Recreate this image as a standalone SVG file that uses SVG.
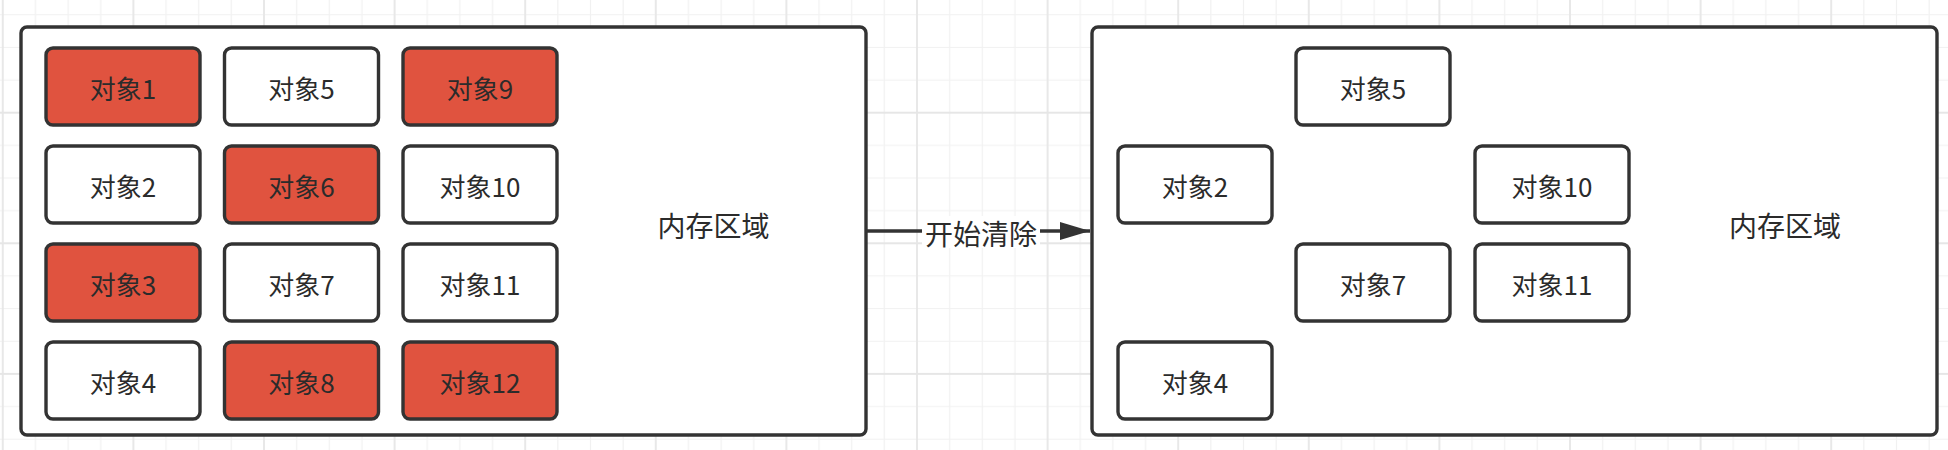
<svg xmlns="http://www.w3.org/2000/svg" width="1948" height="450" viewBox="0 0 1948 450">
<style>
.obj{stroke:#333333;stroke-width:3.4;}
.white{fill:#ffffff;}
.red{fill:#e0533f;}
.area{fill:#ffffff;stroke:#333333;stroke-width:3.4;}
.lbl{font-family:"Noto Sans CJK SC","Noto Sans",sans-serif;font-size:26px;fill:#2b2b2b;text-anchor:middle;dominant-baseline:central;}
.big{font-size:28px;}
.edge{stroke:#333333;stroke-width:3.4;fill:none;}
</style>
<defs>
<pattern id="grid" patternUnits="userSpaceOnUse" x="1.8" y="-18.9" width="130.6" height="130.6">
<g stroke="#f1f1f1" stroke-width="1.2">
<line x1="33.65" y1="0" x2="33.65" y2="130.6"/>
<line x1="66.3" y1="0" x2="66.3" y2="130.6"/>
<line x1="98.95" y1="0" x2="98.95" y2="130.6"/>
<line x1="0" y1="33.65" x2="130.6" y2="33.65"/>
<line x1="0" y1="66.3" x2="130.6" y2="66.3"/>
<line x1="0" y1="98.95" x2="130.6" y2="98.95"/>
</g>
<g stroke="#e6e6e6" stroke-width="1.8">
<line x1="1" y1="0" x2="1" y2="130.6"/>
<line x1="0" y1="1" x2="130.6" y2="1"/>
</g>
</pattern>
<marker id="arrow" viewBox="0 0 30 18" refX="30" refY="9" markerWidth="30" markerHeight="18" markerUnits="userSpaceOnUse" orient="auto">
<path d="M0,0 L30,9 L0,18 Z" fill="#333333"/>
</marker>
</defs>
<rect width="1948" height="450" fill="#ffffff"/>
<rect width="1948" height="450" fill="url(#grid)"/>

<g id="area-before">
<rect class="area" x="21" y="27" width="845" height="408" rx="6"/>
<text class="lbl big" x="713.5" y="225">内存区域</text>
</g>
<g id="obj1"><rect class="obj red" x="46" y="48" width="154" height="77" rx="7"/><text class="lbl" x="123" y="87.5">对象1</text></g>
<g id="obj2"><rect class="obj white" x="46" y="146" width="154" height="77" rx="7"/><text class="lbl" x="123" y="185.5">对象2</text></g>
<g id="obj3"><rect class="obj red" x="46" y="244" width="154" height="77" rx="7"/><text class="lbl" x="123" y="283.5">对象3</text></g>
<g id="obj4"><rect class="obj white" x="46" y="342" width="154" height="77" rx="7"/><text class="lbl" x="123" y="381.5">对象4</text></g>
<g id="obj5"><rect class="obj white" x="224.5" y="48" width="154" height="77" rx="7"/><text class="lbl" x="301.5" y="87.5">对象5</text></g>
<g id="obj6"><rect class="obj red" x="224.5" y="146" width="154" height="77" rx="7"/><text class="lbl" x="301.5" y="185.5">对象6</text></g>
<g id="obj7"><rect class="obj white" x="224.5" y="244" width="154" height="77" rx="7"/><text class="lbl" x="301.5" y="283.5">对象7</text></g>
<g id="obj8"><rect class="obj red" x="224.5" y="342" width="154" height="77" rx="7"/><text class="lbl" x="301.5" y="381.5">对象8</text></g>
<g id="obj9"><rect class="obj red" x="403" y="48" width="154" height="77" rx="7"/><text class="lbl" x="480" y="87.5">对象9</text></g>
<g id="obj10"><rect class="obj white" x="403" y="146" width="154" height="77" rx="7"/><text class="lbl" x="480" y="185.5">对象10</text></g>
<g id="obj11"><rect class="obj white" x="403" y="244" width="154" height="77" rx="7"/><text class="lbl" x="480" y="283.5">对象11</text></g>
<g id="obj12"><rect class="obj red" x="403" y="342" width="154" height="77" rx="7"/><text class="lbl" x="480" y="381.5">对象12</text></g>

<g id="area-after">
<rect class="area" x="1092" y="27" width="845" height="408" rx="6"/>
<text class="lbl big" x="1785" y="225">内存区域</text>
</g>
<g id="after-obj5"><rect class="obj white" x="1296" y="48" width="154" height="77" rx="7"/><text class="lbl" x="1373" y="87.5">对象5</text></g>
<g id="after-obj2"><rect class="obj white" x="1118" y="146" width="154" height="77" rx="7"/><text class="lbl" x="1195" y="185.5">对象2</text></g>
<g id="after-obj10"><rect class="obj white" x="1475" y="146" width="154" height="77" rx="7"/><text class="lbl" x="1552" y="185.5">对象10</text></g>
<g id="after-obj7"><rect class="obj white" x="1296" y="244" width="154" height="77" rx="7"/><text class="lbl" x="1373" y="283.5">对象7</text></g>
<g id="after-obj11"><rect class="obj white" x="1475" y="244" width="154" height="77" rx="7"/><text class="lbl" x="1552" y="283.5">对象11</text></g>
<g id="after-obj4"><rect class="obj white" x="1118" y="342" width="154" height="77" rx="7"/><text class="lbl" x="1195" y="381.5">对象4</text></g>

<g id="connectors">
<path class="edge" d="M866,231 L1090,231" marker-end="url(#arrow)"/>
<rect x="922" y="216" width="118" height="32" fill="#ffffff"/>
<text class="lbl big" x="981" y="233">开始清除</text>
</g>
</svg>
